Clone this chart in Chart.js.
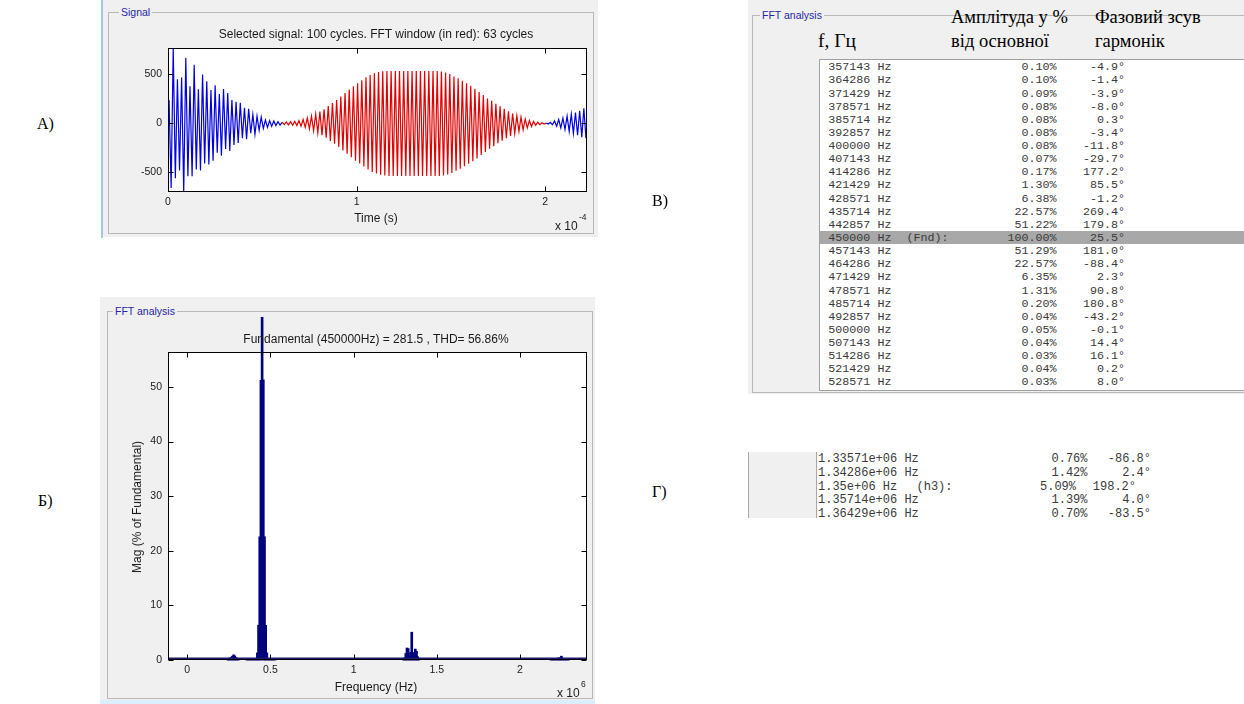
<!DOCTYPE html>
<html><head><meta charset="utf-8">
<script src="https://cdn.jsdelivr.net/npm/chart.js@4.4.1/dist/chart.umd.min.js"></script>
<style>
html,body{margin:0;padding:0;background:#fff;}
body{width:1244px;height:704px;position:relative;overflow:hidden;font-family:'Liberation Sans',Arial,sans-serif;color:#222;}
.panel{position:absolute;background:#f0f0f0;}
.gbox{position:absolute;border:1px solid #b8b8b8;box-sizing:border-box;}
.glabel{position:absolute;font-size:10.5px;color:#2626a6;background:#f0f0f0;padding:0 2px;line-height:12px;white-space:nowrap;}
.ctext{position:absolute;white-space:nowrap;font-size:12px;line-height:14px;transform:translate(-50%,-50%);color:#1a1a1a;}
.ltext{position:absolute;white-space:nowrap;font-size:12px;line-height:14px;transform:translateY(-50%);color:#1a1a1a;}
.mono{font-family:'Liberation Mono','Courier New',monospace;color:#3a3a3a;white-space:pre;position:absolute;line-height:14px;}
.serif{font-family:'Liberation Serif','Times New Roman',serif;color:#000;position:absolute;white-space:nowrap;font-size:18.5px;line-height:22px;transform:translateY(-50%);}
.plabel{font-family:'Liberation Serif','Times New Roman',serif;color:#000;position:absolute;white-space:nowrap;font-size:16px;line-height:18px;transform:translateY(-50%);}
canvas{position:absolute;}
</style></head><body>

<!-- Panel A: signal -->
<div class="panel" style="left:103px;top:0;width:495px;height:237px;"></div>
<div style="position:absolute;left:101px;top:0;width:2px;height:238px;background:#a8c6e6;"></div>
<div class="gbox" style="left:108px;top:12px;width:486px;height:222px;"></div>
<div class="glabel" style="left:119px;top:6px;">Signal</div>
<canvas id="sig" width="497" height="240" style="left:103px;top:0;"></canvas>
<div class="ctext" style="left:376px;top:34px;">Selected signal: 100 cycles. FFT window (in red): 63 cycles</div>
<div class="ctext" style="left:376px;top:218px;">Time (s)</div>
<div class="ltext" style="left:555px;top:226px;">x 10</div>
<div class="ltext" style="left:579px;top:217px;font-size:8.5px;">-4</div>

<!-- Panel Б: FFT bars -->
<div class="panel" style="left:100px;top:297px;width:495px;height:403px;"></div>
<div style="position:absolute;left:100px;top:700px;width:495px;height:4px;background:#dcedfb;"></div>
<div class="gbox" style="left:107px;top:311px;width:486px;height:388px;"></div>
<div class="glabel" style="left:113px;top:305px;">FFT analysis</div>
<canvas id="fft" width="495" height="383" style="left:100px;top:317px;"></canvas>
<div class="ctext" style="left:376px;top:339px;">Fundamental (450000Hz) = 281.5 , THD= 56.86%</div>
<div class="ctext" style="left:376px;top:687px;">Frequency (Hz)</div>
<div class="ctext" style="left:137px;top:507px;transform:translate(-50%,-50%) rotate(-90deg);">Mag (% of Fundamental)</div>
<div class="ltext" style="left:557px;top:693px;">x 10</div>
<div class="ltext" style="left:581px;top:684px;font-size:8.5px;">6</div>

<!-- Panel В: table -->
<div class="panel" style="left:748px;top:0;width:496px;height:394px;"></div>
<div class="gbox" style="left:752px;top:15px;width:600px;height:378px;"></div>
<div class="glabel" style="left:760px;top:9px;">FFT analysis</div>
<div class="serif" style="left:818px;top:41px;font-size:19.5px;">f, Гц</div>
<div class="serif" style="left:951px;top:17px;">Амплітуда у %</div>
<div class="serif" style="left:951px;top:41px;">від основної</div>
<div class="serif" style="left:1095px;top:17px;">Фазовий зсув</div>
<div class="serif" style="left:1095px;top:41px;">гармонік</div>
<div style="position:absolute;left:819px;top:59px;width:500px;height:332px;background:#fff;border:1px solid #a0a0a0;box-sizing:border-box;"></div>
<div id="tableV"></div>

<!-- Panel Г -->
<div style="position:absolute;left:748px;top:452px;width:69px;height:66px;background:#f0f0f0;border-left:1px solid #a8a8a8;border-right:1px solid #a8a8a8;box-sizing:border-box;"></div>
<div id="tableG"></div>

<div class="plabel" style="left:37px;top:124px;">А)</div>
<div class="plabel" style="left:38px;top:501px;">Б)</div>
<div class="plabel" style="left:652px;top:201px;">В)</div>
<div class="plabel" style="left:652px;top:492px;">Г)</div>

<script>
// ---------- DATA ----------
// Signal: 100 cycles of 450 kHz; peak values for every cycle
const carrierHz = 450000;
const signalCycles = 100;
const fftWindowStartCycle = 27;
const fftWindowCycles = 63;
const signalPosPeaks = [
  240,770,450,470,670,380,600,350,500,430,340,390,300,350,310,240,220,210,160,150,90,75,65,35,28,24,18,
  12,15,18,22,28,40,55,75,95,120,145,178,208,240,275,310,345,380,410,440,470,495,512,525,532,
  535,535,535,535,535,535,535,535,535,535,535,535,535,
  530,520,505,480,460,435,410,385,355,320,290,255,230,200,175,150,125,100,80,65,45,30,20,12,6,
  5,12,25,40,55,75,95,110,130,155
];
const signalNegPeaks = [
  -660,-560,-480,-700,-540,-540,-470,-480,-410,-420,-380,-300,-330,-260,-280,-220,-200,-150,-160,-100,-110,-70,-50,-40,-30,-22,-18,
  -12,-15,-18,-22,-28,-40,-55,-75,-95,-120,-145,-178,-208,-240,-275,-310,-345,-380,-410,-440,-470,-495,-512,-525,-532,
  -537,-537,-537,-537,-537,-537,-537,-537,-537,-537,-537,-537,-537,
  -532,-522,-507,-482,-462,-437,-412,-387,-357,-322,-292,-257,-232,-202,-177,-152,-127,-102,-82,-66,-46,-31,-20,-12,-6,
  -6,-14,-28,-45,-62,-80,-100,-120,-140,-150
];
const signalTimeTicks = [0, 1e-4, 2e-4];
const signalValueTicks = [-500, 0, 500];

// FFT spectrum (% of fundamental)
const lowBumpFreqHz = [242857,250000,257143,264286,271429,278571,285714,292857,300000,307143];
const lowBumpMagPct = [0.15,0.25,0.35,0.5,0.7,0.95,0.75,0.45,0.3,0.15];
const tableFreqHz = [357143,364286,371429,378571,385714,392857,400000,407143,414286,421429,428571,435714,442857,450000,457143,464286,471429,478571,485714,492857,500000,507143,514286,521429,528571];
const tableAmpPct = [0.10,0.10,0.09,0.08,0.08,0.08,0.08,0.07,0.17,1.30,6.38,22.57,51.22,100.00,51.29,22.57,6.35,1.31,0.20,0.04,0.05,0.04,0.03,0.04,0.03];
const tablePhaseDeg = [-4.9,-1.4,-3.9,-8.0,0.3,-3.4,-11.8,-29.7,177.2,85.5,-1.2,269.4,179.8,25.5,181.0,-88.4,2.3,90.8,180.8,-43.2,-0.1,14.4,16.1,0.2,8.0];
const fundamentalRow = 13;
const h3FreqHz = [1335714,1342857,1350000,1357143,1364286];
const h3AmpPct = [0.76,1.42,5.09,1.39,0.70];
const h3PhaseDeg = [-86.8,2.4,198.2,4.0,-83.5];
const h3Row = 2;
const h3SideFreqHz = [1300000,1307143,1314286,1321429,1328571,1371429,1378571,1385714,1392857];
const h3SideMagPct = [0.2,0.4,1.2,2.2,2.1,2.0,1.6,0.6,0.25];
const h5BumpFreqHz = [2185714,2192857,2200000,2207143,2214286,2221429,2228571,2235714,2242857,2250000,2257143,2264286,2271429,2278571,2285714,2292857];
const h5BumpMagPct = [0.2,0.25,0.3,0.3,0.25,0.3,0.35,0.4,0.35,0.7,0.35,0.3,0.25,0.3,0.3,0.2];
const freqTicks = [0, 500000, 1000000, 1500000, 2000000];
const magTicks = [0, 10, 20, 30, 40, 50];

// ---------- TABLES ----------
function addText(parent, cls, text, style){
  const d=document.createElement('div'); d.className=cls; d.textContent=text; d.setAttribute('style',style); parent.appendChild(d); return d;
}
const tv=document.getElementById('tableV');
tableFreqHz.forEach((f,i)=>{
  const cy=67.3+i*13.13, top=(cy-7).toFixed(2);
  if(i===fundamentalRow){
    const hl=document.createElement('div');
    hl.setAttribute('style',`position:absolute;left:820px;top:${(cy-6.5).toFixed(2)}px;width:424px;height:13px;background:#a8a8a8;`);
    tv.appendChild(hl);
    addText(tv,'mono','(Fnd):',`left:906.5px;top:${top}px;font-size:11.7px;`);
  }
  addText(tv,'mono',Math.round(f)+' Hz',`left:828.3px;top:${top}px;font-size:11.7px;`);
  addText(tv,'mono',tableAmpPct[i].toFixed(2)+'%',`left:956.5px;width:100px;text-align:right;top:${top}px;font-size:11.7px;`);
  addText(tv,'mono',tablePhaseDeg[i].toFixed(1)+'°',`left:1025px;width:100px;text-align:right;top:${top}px;font-size:11.7px;`);
});
const tg=document.getElementById('tableG');
h3FreqHz.forEach((f,i)=>{
  const cy=459.3+i*13.73, top=(cy-7).toFixed(2);
  const lab=Number((f/1e6).toPrecision(6)).toString()+'e+06 Hz';
  addText(tg,'mono',lab,`left:818px;top:${top}px;font-size:12px;`);
  const isH=(i===h3Row);
  if(isH) addText(tg,'mono','(h3):',`left:916.5px;top:${top}px;font-size:12px;`);
  addText(tg,'mono',h3AmpPct[i].toFixed(2)+'%',`left:${isH?976:987.5}px;width:100px;text-align:right;top:${top}px;font-size:12px;`);
  addText(tg,'mono',h3PhaseDeg[i].toFixed(1)+'°',`left:${isH?1036:1051}px;width:100px;text-align:right;top:${top}px;font-size:12px;`);
});

// ---------- CHARTS ----------
const matlabBox = {
  id:'matlabBox',
  beforeDraw(chart){
    const {ctx, chartArea:a}=chart; ctx.save(); ctx.fillStyle='#fff';
    ctx.fillRect(a.left,a.top,a.right-a.left,a.bottom-a.top); ctx.restore();
  },
  afterDraw(chart,args,opts){
    const {ctx, chartArea:a, scales}=chart; ctx.save();
    const L=Math.round(a.left)+0.5, R=Math.round(a.right)-0.5, T=Math.round(a.top)+0.5, B=Math.round(a.bottom)-0.5;
    if(opts.baseline){ ctx.strokeStyle=opts.baseline; ctx.lineWidth=2; ctx.beginPath(); ctx.moveTo(L,B-1); ctx.lineTo(R,B-1); ctx.stroke(); }
    ctx.strokeStyle='#000'; ctx.lineWidth=1;
    ctx.strokeRect(L,T,R-L,B-T);
    const tl=5; ctx.beginPath();
    scales.x.ticks.forEach(t=>{const p=Math.round(scales.x.getPixelForValue(t.value))+0.5; ctx.moveTo(p,B); ctx.lineTo(p,B-tl); ctx.moveTo(p,T); ctx.lineTo(p,T+tl);});
    scales.y.ticks.forEach(t=>{const p=Math.round(scales.y.getPixelForValue(t.value))+0.5; ctx.moveTo(L,p); ctx.lineTo(L+tl,p); ctx.moveTo(R,p); ctx.lineTo(R-tl,p);});
    ctx.stroke(); ctx.restore();
  }
};
const tickFont={family:"'Liberation Sans', Arial, sans-serif", size:10.5};
function scaleOpts(min,max,tickVals,fmt,fixed,isX,pad){
  return {
    type:'linear', min, max, offset:false,
    grid:{display:false, drawTicks:false}, border:{display:false},
    afterBuildTicks:s=>{ s.ticks=tickVals.map(v=>({value:v})); },
    afterFit:s=>{ if(isX) s.height=fixed; else s.width=fixed; },
    ticks:{ font:tickFont, color:'#1a1a1a', padding:pad, maxRotation:0, autoSkip:false, callback:fmt }
  };
}

// Signal chart
const T = 1/carrierHz;
const sigPoints=[];
for(let k=0;k<signalCycles;k++){
  sigPoints.push({x:(k+0.25)*T, y:signalPosPeaks[k]});
  sigPoints.push({x:(k+0.75)*T, y:signalNegPeaks[k]});
}
const winStart=fftWindowStartCycle*T, winEnd=(fftWindowStartCycle+fftWindowCycles)*T;
new Chart(document.getElementById('sig'),{
  type:'line',
  data:{datasets:[{data:sigPoints, borderWidth:1.2, pointRadius:0, tension:0, borderColor:'#0000e0',
    segment:{borderColor:c=> (c.p0.parsed.x>=winStart && c.p0.parsed.x<winEnd) ? '#e00000' : '#0000e0'}}]},
  options:{
    responsive:false, animation:false, devicePixelRatio:1,
    layout:{padding:{top:48,right:13,left:0,bottom:0}},
    plugins:{legend:{display:false}, tooltip:{enabled:false}, matlabBox:{}},
    scales:{
      x:scaleOpts(0, signalCycles*T, signalTimeTicks, v=>String(+(v*1e4).toFixed(3)), 48, true, 4),
      y:scaleOpts(-700, 770, signalValueTicks, v=>String(v), 65, false, 6)
    }
  },
  plugins:[matlabBox]
});

// FFT chart
const fftFreq=[].concat(lowBumpFreqHz, tableFreqHz, h3SideFreqHz, h3FreqHz, h5BumpFreqHz);
const fftMag=[].concat(lowBumpMagPct, tableAmpPct, h3SideMagPct, h3AmpPct, h5BumpMagPct);
const fftPoints=fftFreq.map((f,i)=>({x:f,y:fftMag[i]})).sort((a,b)=>a.x-b.x);
new Chart(document.getElementById('fft'),{
  type:'bar',
  data:{datasets:[{data:fftPoints, backgroundColor:'#00007e', borderWidth:0, barThickness:2, clip:false}]},
  options:{
    responsive:false, animation:false, devicePixelRatio:1,
    layout:{padding:{top:35,right:8,left:0,bottom:0}},
    plugins:{legend:{display:false}, tooltip:{enabled:false}, matlabBox:{baseline:'#1a1a70'}},
    scales:{
      x:scaleOpts(-116000, 2404000, freqTicks, v=>String(+(v/1e6).toFixed(3)), 40, true, 4),
      y:scaleOpts(0, 56.4, magTicks, v=>String(v), 68, false, 6)
    }
  },
  plugins:[matlabBox]
});
</script>
</body></html>
